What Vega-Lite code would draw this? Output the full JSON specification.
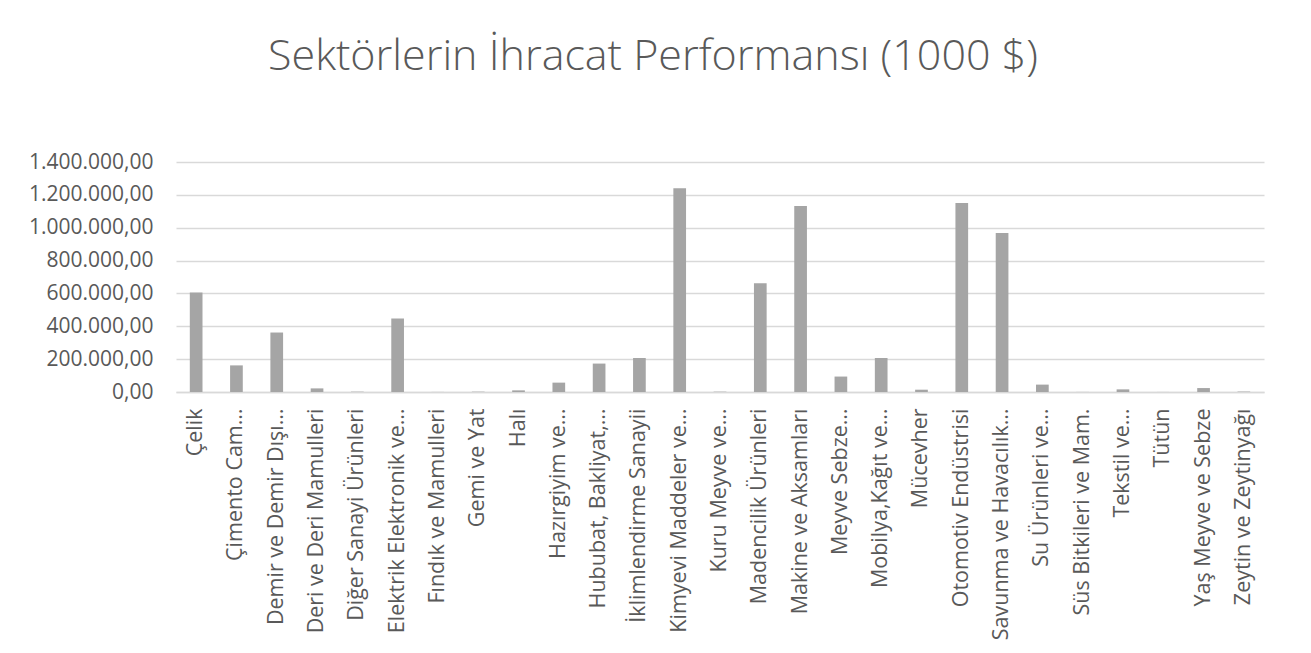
{
  "$schema": "https://vega.github.io/schema/vega-lite/v6.json",
  "autosize": {"type": "none"},
  "width": 1088,
  "height": 230,
  "padding": {"left": 176, "top": 162, "right": 47, "bottom": 261},
  "background": "white",
  "title": {
    "text": "Sektörlerin İhracat Performansı (1000 $)",
    "font": "Open Sans",
    "fontSize": 43,
    "fontWeight": 300,
    "color": "#595959",
    "anchor": "middle",
    "frame": "group",
    "dx": -67,
    "baseline": "alphabetic",
    "offset": 38
  },
  "data": {
    "values": [
      {"sektor": "Çelik", "deger": 605000},
      {"sektor": "Çimento Cam…", "deger": 162000},
      {"sektor": "Demir ve Demir Dışı…", "deger": 362000},
      {"sektor": "Deri ve Deri Mamulleri", "deger": 22000},
      {"sektor": "Diğer Sanayi Ürünleri", "deger": 2000},
      {"sektor": "Elektrik Elektronik ve…", "deger": 447000},
      {"sektor": "Fındık ve Mamulleri", "deger": 500},
      {"sektor": "Gemi ve Yat", "deger": 2000},
      {"sektor": "Halı", "deger": 10000},
      {"sektor": "Hazırgiyim ve…", "deger": 57000},
      {"sektor": "Hububat, Bakliyat,…", "deger": 173000},
      {"sektor": "İklimlendirme Sanayii", "deger": 207000},
      {"sektor": "Kimyevi Maddeler ve…", "deger": 1240000},
      {"sektor": "Kuru Meyve ve…", "deger": 2000},
      {"sektor": "Madencilik Ürünleri", "deger": 662000},
      {"sektor": "Makine ve Aksamları", "deger": 1132000},
      {"sektor": "Meyve Sebze…", "deger": 94000},
      {"sektor": "Mobilya,Kağıt ve…", "deger": 207000},
      {"sektor": "Mücevher", "deger": 14000},
      {"sektor": "Otomotiv Endüstrisi", "deger": 1150000},
      {"sektor": "Savunma ve Havacılık…", "deger": 968000},
      {"sektor": "Su Ürünleri ve…", "deger": 45000},
      {"sektor": "Süs Bitkileri ve Mam.", "deger": 500},
      {"sektor": "Tekstil ve…", "deger": 16000},
      {"sektor": "Tütün", "deger": 300},
      {"sektor": "Yaş Meyve ve Sebze", "deger": 24000},
      {"sektor": "Zeytin ve Zeytinyağı", "deger": 2500}
    ]
  },
  "mark": {"type": "bar", "color": "#a5a5a5"},
  "encoding": {
    "x": {
      "field": "sektor",
      "type": "nominal",
      "sort": null,
      "scale": {"paddingInner": 0.685, "paddingOuter": 0.3425},
      "axis": {
        "title": null,
        "labelAngle": -90,
        "labelAlign": "right",
        "labelBaseline": "middle",
        "labelPadding": 16,
        "labelFont": "Open Sans",
        "labelFontSize": 21.5,
        "labelColor": "#595959",
        "labelLimit": 400,
        "labelOverlap": false,
        "ticks": false,
        "domain": true,
        "domainColor": "#d9d9d9",
        "domainWidth": 1.3,
        "grid": false
      }
    },
    "y": {
      "field": "deger",
      "type": "quantitative",
      "scale": {"domain": [0, 1400000], "nice": false},
      "axis": {
        "title": null,
        "values": [0, 200000, 400000, 600000, 800000, 1000000, 1200000, 1400000],
        "format": ",.2f",
        "labelFont": "Open Sans",
        "labelFontSize": 21,
        "labelColor": "#595959",
        "labelPadding": 23,
        "labelOverlap": false,
        "ticks": false,
        "domain": false,
        "grid": true,
        "gridColor": "#d9d9d9",
        "gridWidth": 1.3
      }
    }
  },
  "config": {
    "view": {"stroke": null},
    "locale": {
      "number": {"decimal": ",", "thousands": ".", "grouping": [3], "currency": ["", " $"]}
    }
  }
}
